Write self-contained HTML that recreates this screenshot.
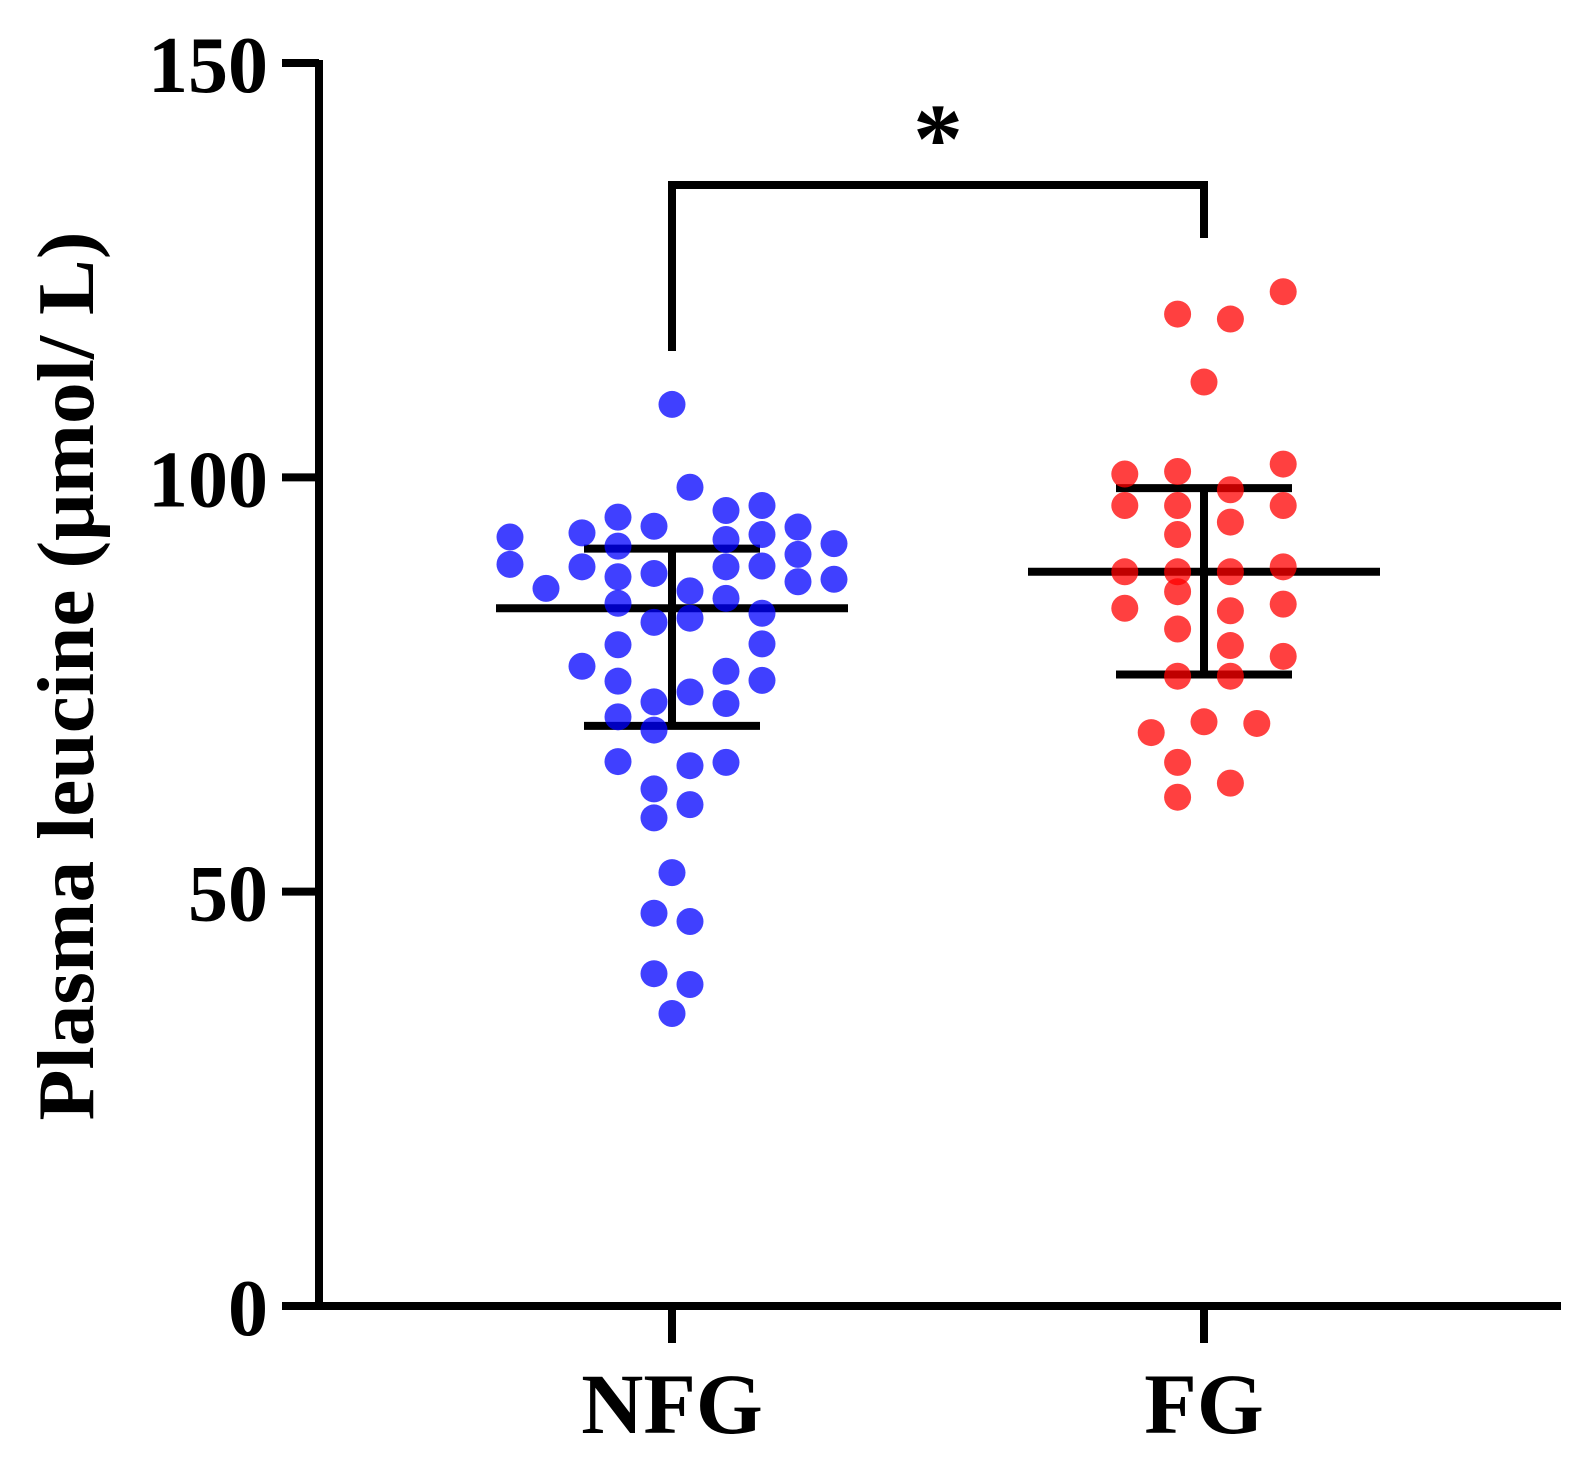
<!DOCTYPE html>
<html><head><meta charset="utf-8"><style>
html,body{margin:0;padding:0;background:#fff;}
svg text{font-family:"Liberation Serif","Times New Roman",serif;font-weight:bold;fill:#000;}
</style></head><body>
<svg id="chart" width="1593" height="1455" viewBox="0 0 1593 1455" xmlns="http://www.w3.org/2000/svg">
<g id="axes"></g>
<g id="marks"></g>
<text x="93" y="676" transform="rotate(-90 93 676)" text-anchor="middle" font-size="80" textLength="889" lengthAdjust="spacingAndGlyphs">Plasma leucine (μmol/ L)</text>
</svg>
<script>
const categories = ["NFG", "FG"];
const yTicks = [0, 50, 100, 150];
const nfgValues = [108.8,98.8,95.2,96.0,96.6,92.8,93.3,94.1,91.7,92.5,93.1,94.0,92.0,89.5,89.2,88.4,89.2,89.3,90.7,86.6,88.0,86.3,85.4,87.4,87.7,84.8,82.5,83.0,83.6,79.8,79.9,77.2,75.4,76.6,75.5,74.1,72.9,72.7,71.1,69.5,65.7,65.2,65.6,62.4,60.5,58.9,52.3,47.4,46.4,40.1,38.8,35.3];
const nfgJitter = [0,0.5,-1.5,1.5,2.5,-4.5,-2.5,-0.5,-1.5,1.5,2.5,3.5,4.5,-4.5,-2.5,-0.5,1.5,2.5,3.5,-3.5,-1.5,0.5,1.5,3.5,4.5,-1.5,-0.5,0.5,2.5,-1.5,2.5,-2.5,-1.5,1.5,2.5,0.5,-0.5,1.5,-1.5,-0.5,-1.5,0.5,1.5,-0.5,0.5,-0.5,0,-0.5,0.5,-0.5,0.5,0];
const fgValues = [122.4,119.7,119.1,111.5,101.6,100.4,100.7,96.6,96.6,96.6,98.5,93.1,94.6,88.6,88.6,88.6,89.2,86.2,84.2,83.9,84.7,81.7,79.7,78.4,76.0,76.0,69.2,70.5,70.3,65.6,63.1,61.4];
const fgJitter = [3,-1,1,0,3,-3,-1,-3,-1,3,1,-1,1,-3,-1,1,3,-1,-3,1,3,-1,1,3,-1,1,-2,0,2,-1,1,-1];
const means = [84.2, 88.6];
const sdHigh = [91.4, 98.7];
const sdLow = [70.0, 76.2];
const sigStar = "*";

const NS = "http://www.w3.org/2000/svg";
const Y0 = 1306, PX = (1306 - 63) / 150;
const yS = v => Y0 - v * PX;
const xCenters = [672, 1204];
const xS = i => xCenters[i];
const axes = document.getElementById('axes');
const marks = document.getElementById('marks');
function mk(tag, attrs, parent) {
  const e = document.createElementNS(NS, tag);
  for (const k in attrs) e.setAttribute(k, attrs[k]);
  parent.appendChild(e);
  return e;
}
let el = mk('line', {x1:319, y1:yS(150)-3, x2:319, y2:Y0+3, stroke:'#000','stroke-width':8}, axes);


el = mk('line', {x1:319, y1:Y0, x2:1561, y2:Y0, stroke:'#000','stroke-width':8}, axes);


yTicks.forEach(t => {
  const y = yS(t);
  const l = mk('line', {x1:282, y1:y, x2:319, y2:y, stroke:'#000','stroke-width':8}, axes);
  
  
  const tx = mk('text', {x:268, y:y+29, 'text-anchor':'end', 'font-size':80}, axes);
  tx.textContent = t;
  
  
});
categories.forEach((c, i) => {
  const x = xS(i);
  const l = mk('line', {x1:x, y1:Y0, x2:x, y2:1343, stroke:'#000','stroke-width':8}, axes);
  
  
  const tx = mk('text', {x:x, y:1433, 'text-anchor':'middle', 'font-size':86}, axes);
  tx.textContent = c;
  
  
});
const meanHalf = 176, capHalf = 88;
categories.forEach((c, i) => {
  const x = xS(i);
  const g = mk('g', {stroke:'#000','stroke-width':8}, marks);
  
  
  mk('line', {x1:x, y1:yS(sdHigh[i]), x2:x, y2:yS(sdLow[i])}, g);
  mk('line', {x1:x-capHalf, y1:yS(sdHigh[i]), x2:x+capHalf, y2:yS(sdHigh[i])}, g);
  mk('line', {x1:x-capHalf, y1:yS(sdLow[i]), x2:x+capHalf, y2:yS(sdLow[i])}, g);
  mk('line', {x1:x-meanHalf, y1:yS(means[i]), x2:x+meanHalf, y2:yS(means[i])}, g);
});
nfgValues.forEach((v, k) => {
  const d = mk('circle', {cx:xS(0) + nfgJitter[k]*36, cy:yS(v), r:13.5, fill:'rgba(0,0,255,0.75)'}, marks);
  
  
});
fgValues.forEach((v, k) => {
  const d = mk('circle', {cx:xS(1) + fgJitter[k]*26.4, cy:yS(v), r:13.5, fill:'rgba(255,0,0,0.75)'}, marks);
  
  
});
const br = mk('polyline', {points:`${xS(0)},351 ${xS(0)},185 ${xS(1)},185 ${xS(1)},238`, fill:'none', stroke:'#000','stroke-width':8}, marks);


const st = mk('text', {x:(xS(0)+xS(1))/2, y:172, 'text-anchor':'middle', 'font-size':100}, marks);
st.textContent = sigStar;


</script>
</body></html>
